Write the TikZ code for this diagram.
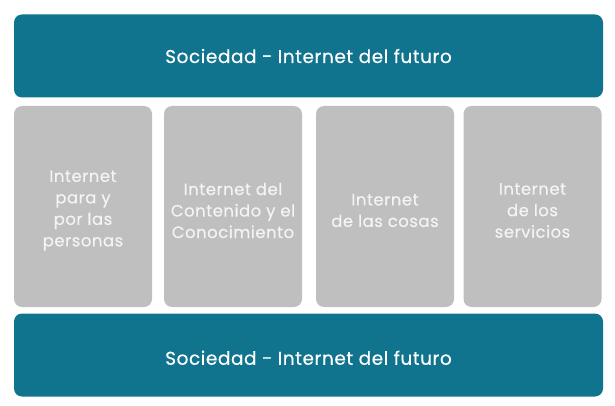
\documentclass[tikz,border=0pt]{standalone}
\usepackage{fontspec}
\setmainfont{Poppins}[LetterSpace=3, FakeBold=0.3]
\definecolor{tealbar}{HTML}{10748F}
\definecolor{graybox}{HTML}{BFBFBF}
\definecolor{softwhite}{HTML}{F4F4F4}
\tikzset{
    barra/.style={fill=tealbar, rounded corners=8pt, minimum width=589pt, minimum height=83pt,
        text=white, font=\fontsize{18.5}{22}\selectfont},
    caja/.style={fill=graybox, rounded corners=8pt, minimum width=138pt, minimum height=201pt},
    texto/.style={text=softwhite, align=center, inner sep=0pt, font=\fontsize{16.5}{21.5}\selectfont}
}
\begin{document}
\begin{tikzpicture}[x=1pt, y=-1pt]
    % 1. Marco de la imagen
    \useasboundingbox (0,0) rectangle (615,406);

    % 2. Barras superior e inferior
    \node[barra] (sociedadArriba) at (308.5,56) {Sociedad - Internet del futuro};
    \node[barra, text height=19.5pt, text depth=0pt] (sociedadAbajo) at (308.5,355) {Sociedad - Internet del futuro};

    % 3. Cajas grises
    \node[caja] (personas) at (83,206.5) {};
    \node[caja] (contenido) at (233,206.5) {};
    \node[caja] (cosas) at (385,206.5) {};
    \node[caja] (servicios) at (532.5,206.5) {};

    % 4. Textos de las cajas
    \node[texto] (personasTxt) at ([yshift=-4pt]personas.center) {Internet\\para y\\por las\\personas};
    \node[texto] (contenidoTxt) at ([yshift=-4pt]contenido.center) {Internet del\\Contenido y el\\Conocimiento};
    \node[texto] (cosasTxt) at ([yshift=-4pt]cosas.center) {Internet\\de las cosas};
    \node[texto] (serviciosTxt) at ([yshift=-4pt]servicios.center) {Internet\\de los\\servicios};
\end{tikzpicture}
\end{document}
